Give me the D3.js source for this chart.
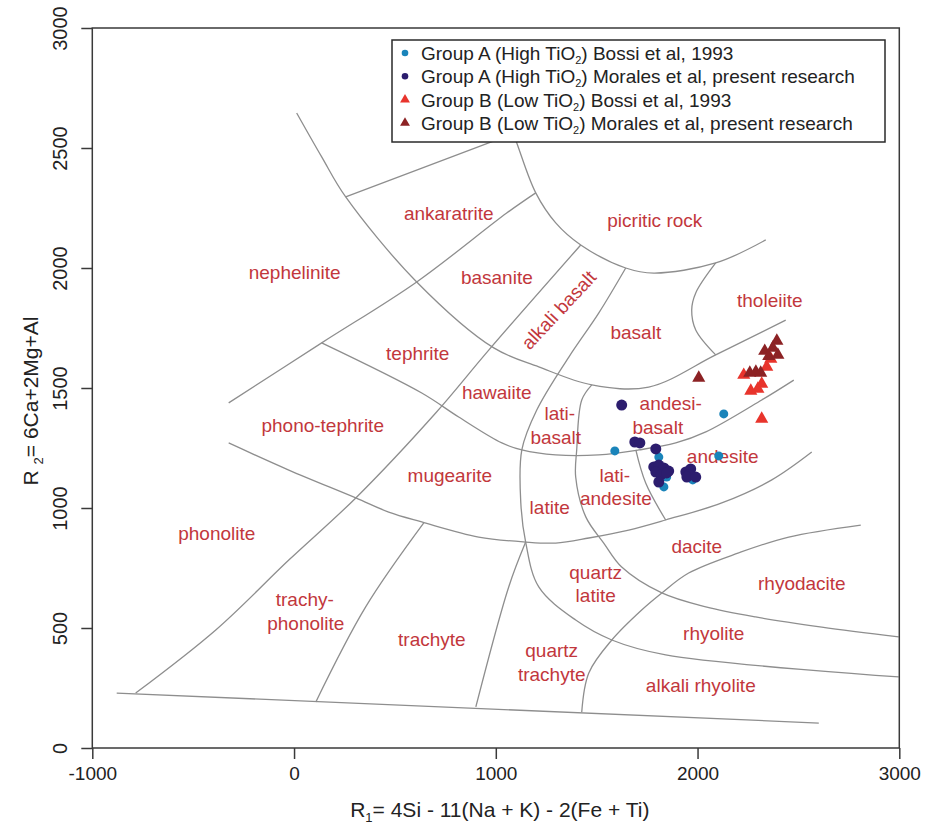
<!DOCTYPE html>
<html>
<head>
<meta charset="utf-8">
<script src="https://cdn.jsdelivr.net/npm/d3@7"></script>
<style>
  body { margin: 0; background: #fff; }
  text { font-family: "Liberation Sans", Arial, sans-serif; }
</style>
</head>
<body>
<script>
// R1-R2 diagram, field boundaries (R1, R2 units)
const xTicks = [-1000, 0, 1000, 2000, 3000];
const yTicks = [0, 500, 1000, 1500, 2000, 2500, 3000];

const outerArc = [[13,2646],[137,2463],[256,2296],[608,1942],[990,1667],[1213,1588],[1476,1513],[1758,1504],[2090,1638],[2437,1783]];
const nephelLine = [[-324,1438],[137,1688],[608,1942],[1054,2229],[1198,2313]];
const ankaraTop = [[256,2296],[965,2521],[1200,2596]];
const picritic = [[1054,2638],[1104,2521],[1198,2313],[1297,2188],[1421,2096],[1644,2000],[1783,1979],[2090,2021],[2338,2117]];
const tholeiiteLeft = [[2090,2021],[1991,1896],[1971,1825],[1991,1742],[2090,1638]];
const alkaliLeft = [[1421,2096],[965,1658],[702,1396],[306,1042],[-26,783],[-388,492],[-785,229]];
const alkaliRight = [[1644,2000],[1510,1812],[1362,1629],[1203,1408],[1129,1242],[1124,1021],[1148,858],[1213,671],[1396,533],[1575,450],[1842,388],[2997,296]];
const latiBasaltRight = [[1476,1513],[1426,1450],[1401,1242],[1396,1129],[1446,963],[1535,854],[1624,754],[1823,646],[2041,588],[2288,546],[2616,504],[2997,463]];
const tephriteArc = [[137,1688],[633,1479],[816,1379],[1030,1271],[1129,1242],[1297,1221],[1510,1221],[1709,1242],[1892,1271],[2041,1317],[2318,1450],[2477,1533]];
const mugeariteArc = [[-324,1271],[-26,1158],[306,1042],[469,983],[633,942],[915,879],[1148,858],[1297,854],[1461,875],[1659,908],[1842,950],[2120,1021],[2368,1117],[2566,1233]];
const latiAndesite = [[1694,1242],[1743,1104],[1842,950]];
const trachyteLeft = [[643,938],[355,588],[108,192]];
const qTrachyteLeft = [[1148,858],[1064,671],[901,171]];
const rhyodaciteBase = [[1426,150],[1461,313],[1575,450],[1723,575],[1823,646],[1956,729],[2204,813],[2452,879],[2809,929]];
const baseLine = [[-879,229],[2601,104]];

const boundaries = [outerArc, nephelLine, ankaraTop, picritic, tholeiiteLeft, alkaliLeft, alkaliRight,
  latiBasaltRight, tephriteArc, mugeariteArc, latiAndesite, trachyteLeft, qTrachyteLeft, rhyodaciteBase, baseLine];

// field names: text, R1, R2, angle
const fieldLabels = [
  ["ankaratrite", 767, 2229], ["nephelinite", 3, 1983], ["basanite", 1005, 1963],
  ["picritic rock", 1788, 2200], ["tephrite", 613, 1646], ["alkali basalt", 1312, 1825, -47],
  ["basalt", 1694, 1733], ["tholeiite", 2358, 1867], ["hawaiite", 1005, 1483],
  ["lati-", 1317, 1396], ["basalt", 1297, 1296], ["andesi-", 1867, 1438], ["basalt", 1803, 1338],
  ["andesite", 2125, 1217], ["lati-", 1590, 1138], ["andesite", 1595, 1042], ["latite", 1267, 1004],
  ["mugearite", 772, 1138], ["phono-tephrite", 142, 1346], ["phonolite", -383, 896],
  ["trachy-", 53, 621], ["phonolite", 58, 521], ["trachyte", 683, 454],
  ["quartz", 1495, 733], ["latite", 1495, 638], ["dacite", 1996, 842], ["rhyodacite", 2517, 688],
  ["rhyolite", 2080, 479], ["quartz", 1277, 408], ["trachyte", 1277, 308], ["alkali rhyolite", 2016, 263]
];

// samples (R1, R2)
const groupABossi = [[2130,1392],[1590,1238],[1808,1212],[2105,1217],[1847,1129],[1833,1088],[1976,1117]];
const groupAMorales = [[1624,1429],[1689,1275],[1714,1271],[1793,1246],[1783,1171],[1808,1179],[1833,1167],[1857,1154],
  [1793,1150],[1818,1138],[1847,1146],[1808,1108],[1942,1150],[1966,1163],[1956,1138],[1947,1129],[1991,1129]];
const groupBBossi = [[2229,1554],[2264,1488],[2299,1496],[2318,1517],[2343,1588],[2363,1621],[2318,1371]];
const groupBMorales = [[2006,1542],[2259,1563],[2289,1567],[2313,1563],[2333,1654],[2353,1633],[2373,1667],[2393,1696],[2398,1638]];

const series = [
  {pre: "Group A (High TiO", post: ") Bossi et al, 1993", data: groupABossi, color: "#1a84ba", shape: "circle", r: 4.5},
  {pre: "Group A (High TiO", post: ") Morales et al, present research", data: groupAMorales, color: "#2c1d6e", shape: "circle", r: 5.5},
  {pre: "Group B (Low TiO", post: ") Bossi et al, 1993", data: groupBBossi, color: "#e8342c", shape: "triangle", r: 75},
  {pre: "Group B (Low TiO", post: ") Morales et al, present research", data: groupBMorales, color: "#8c2224", shape: "triangle", r: 75}
];

const W = 936, H = 830;
const axisColor = "#3a3a3a";
const x = d3.scaleLinear().domain([-1000, 3000]).range([92.3, 899.3]);
const y = d3.scaleLinear().domain([0, 3000]).range([748, 28]);

const svg = d3.select("body").append("svg").attr("width", W).attr("height", H);

// field boundaries
const line = d3.line().x(d => x(d[0])).y(d => y(d[1])).curve(d3.curveCatmullRom.alpha(0.5));
svg.append("g")
    .attr("fill", "none")
    .attr("stroke", "#8e8e8e")
    .attr("stroke-width", 1.3)
  .selectAll("path")
  .data(boundaries)
  .join("path")
    .attr("d", line);

// frame + axes
svg.append("rect")
    .attr("x", x(-1000)).attr("y", y(3000))
    .attr("width", x(3000) - x(-1000)).attr("height", y(0) - y(3000))
    .attr("fill", "none").attr("stroke", axisColor).attr("stroke-width", 1.5);

const gx = svg.append("g")
    .attr("transform", `translate(0,${y(0)})`)
    .call(d3.axisBottom(x).tickValues(xTicks).tickSize(11).tickSizeOuter(0).tickPadding(8).tickFormat(d => String(d)));
gx.select(".domain").remove();
gx.attr("font-size", 19).attr("font-family", '"Liberation Sans", Arial, sans-serif');
gx.selectAll("line").attr("stroke", axisColor).attr("stroke-width", 1.5);
gx.selectAll("text").attr("fill", "#222");

const gy = svg.append("g")
    .attr("transform", `translate(${x(-1000)},0)`)
    .call(d3.axisLeft(y).tickValues(yTicks).tickSize(11).tickSizeOuter(0).tickFormat(d => String(d)));
gy.select(".domain").remove();
gy.attr("font-size", 20).attr("font-family", '"Liberation Sans", Arial, sans-serif');
gy.selectAll("line").attr("stroke", axisColor).attr("stroke-width", 1.5);
gy.selectAll("text")
    .attr("fill", "#222")
    .attr("x", 0).attr("y", -25).attr("dy", null)
    .attr("text-anchor", "middle")
    .attr("transform", "rotate(-90)");

// axis titles
const xt = svg.append("text")
    .attr("x", (x(-1000) + x(3000)) / 2 + 4).attr("y", 817)
    .attr("text-anchor", "middle").attr("font-size", 21).attr("fill", "#222");
xt.append("tspan").text("R");
xt.append("tspan").attr("font-size", 13).attr("dy", 5).text("1");
xt.append("tspan").attr("dy", -5).text("= 4Si - 11(Na + K) - 2(Fe + Ti)");

const yt = svg.append("text")
    .attr("transform", "translate(38,401) rotate(-90)")
    .attr("text-anchor", "middle").attr("font-size", 21).attr("fill", "#222");
yt.append("tspan").text("R ");
yt.append("tspan").attr("font-size", 13).attr("dy", 5).text("2");
yt.append("tspan").attr("dy", -5).text("= 6Ca+2Mg+Al");

// legend
const lg = svg.append("g");
lg.append("rect")
    .attr("x", 392).attr("y", 40).attr("width", 493).attr("height", 102)
    .attr("fill", "#fff").attr("stroke", "#2a2a2a").attr("stroke-width", 1.5);

const symbol = (s, size) => s.shape === "circle"
    ? d3.symbol(d3.symbolCircle, Math.PI * size * size)()
    : d3.symbol(d3.symbolTriangle, size)();

series.forEach((s, i) => {
  const cy = 53 + i * 23.3;
  lg.append("path")
      .attr("transform", `translate(405,${cy})`)
      .attr("d", s.shape === "circle" ? symbol(s, 3.3) : symbol(s, 42))
      .attr("fill", s.color);
  const t = lg.append("text").attr("x", 421).attr("y", cy + 7).attr("font-size", 19).attr("fill", "#222");
  t.append("tspan").text(s.pre);
  t.append("tspan").attr("font-size", 11).attr("dy", 4).text("2");
  t.append("tspan").attr("dy", -4).text(s.post);
});

// field names
svg.append("g")
    .attr("font-size", 19)
    .attr("fill", "#c2373c")
    .attr("text-anchor", "middle")
  .selectAll("text")
  .data(fieldLabels)
  .join("text")
    .attr("transform", d => `translate(${x(d[1])},${y(d[2])}) rotate(${d[3] || 0})`)
    .attr("dy", "0.35em")
    .text(d => d[0]);

// samples
series.forEach(s => {
  svg.append("g")
      .attr("fill", s.color)
    .selectAll("path")
    .data(s.data)
    .join("path")
      .attr("transform", d => `translate(${x(d[0])},${y(d[1])})`)
      .attr("d", symbol(s, s.r));
});
</script>
</body>
</html>
